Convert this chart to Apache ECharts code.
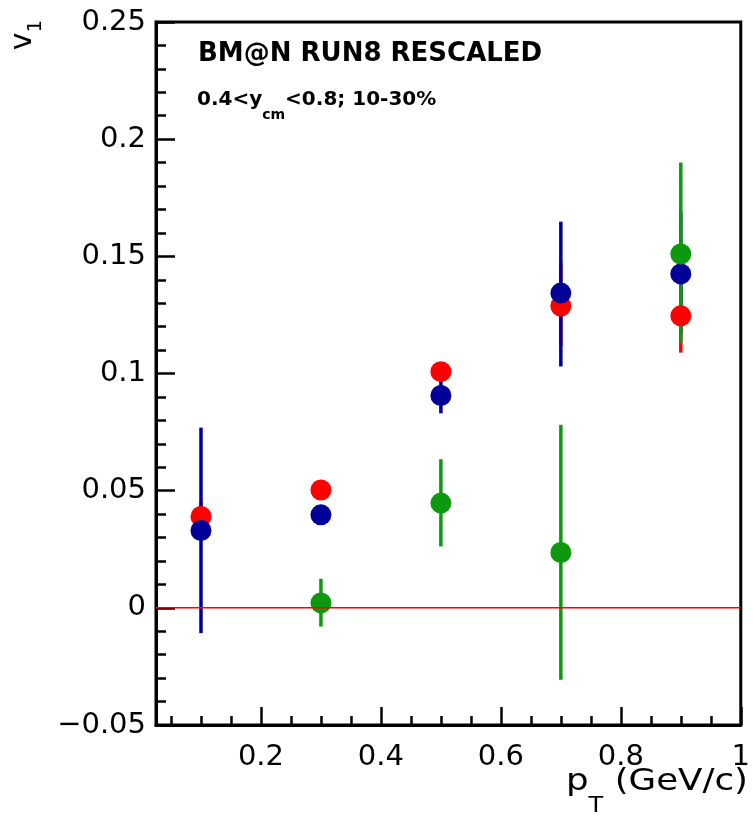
<!DOCTYPE html>
<html>
<head>
<meta charset="utf-8">
<script src="https://cdn.jsdelivr.net/npm/echarts@6/dist/echarts.min.js"></script>
<style>
html,body{margin:0;padding:0;background:#fff;}
#chart{width:753px;height:816px;}
</style>
</head>
<body>
<div id="chart"></div>
<script>
// pT bin centres
var ptAll = [0.1, 0.3, 0.5, 0.7, 0.9];
var ptGreen = [0.3, 0.5, 0.7, 0.9];

// red points
var redV  = [0.039, 0.0503, 0.1008, 0.1288, 0.1246];
var redLo = [0.033, 0.047, 0.097, 0.1118, 0.1089];
var redHi = [0.045, 0.053, 0.104, 0.1473, 0.1403];

// blue points
var blueV  = [0.033, 0.0397, 0.0906, 0.1343, 0.1425];
var blueLo = [-0.0108, 0.037, 0.083, 0.103, 0.1169];
var blueHi = [0.0769, 0.043, 0.0973, 0.1648, 0.1688];

// green points
var greenV  = [0.0021, 0.0447, 0.0236, 0.151];
var greenLo = [-0.008, 0.0262, -0.0307, 0.1132];
var greenHi = [0.0124, 0.0634, 0.0781, 0.19];

// axes
var xMin = 0.025, xMax = 1.0;
var xMajor = [0.2, 0.4, 0.6, 0.8, 1.0];
var xMinor = [0.05, 0.1, 0.15, 0.25, 0.3, 0.35, 0.45, 0.5, 0.55, 0.65, 0.7, 0.75, 0.85, 0.9, 0.95];
var yMin = -0.05, yMax = 0.25, yStep = 0.05;
var zeroLine = [[xMin, 0], [xMax, 0]];

var FONT = 'DejaVu Sans';

function pts(x, v){
  return x.map(function(a, i){ return [a, v[i]]; });
}
function errs(x, lo, hi){
  return x.map(function(a, i){ return [a, lo[i], hi[i]]; });
}
function errSeries(data, color){
  return {
    type: 'custom',
    xAxisIndex: 0,
    data: data,
    encode: {x: 0, y: [1, 2]},
    renderItem: function(params, api){
      var p1 = api.coord([api.value(0), api.value(1)]);
      var p2 = api.coord([api.value(0), api.value(2)]);
      return {
        type: 'line',
        shape: {x1: p1[0], y1: p1[1], x2: p2[0], y2: p2[1]},
        style: {stroke: color, lineWidth: 3.5}
      };
    }
  };
}
function dotSeries(data, color){
  return {
    type: 'scatter',
    xAxisIndex: 0,
    data: data,
    symbol: 'circle',
    symbolSize: 21,
    itemStyle: {color: color, opacity: 1}
  };
}

var red = '#ff0000', blue = '#000099', green = '#0d990d';

var chart = echarts.init(document.getElementById('chart'));
chart.setOption({
  animation: false,
  grid: {left: 156, right: 7, top: 22, bottom: 91, show: true, borderColor: '#000', borderWidth: 3, backgroundColor: 'transparent'},
  xAxis: [
    {
      type: 'value', min: xMin, max: xMax,
      axisLine: {show: true, onZero: false, lineStyle: {color: '#000', width: 3}},
      axisTick: {show: true, inside: true, length: 18, customValues: xMajor, lineStyle: {color: '#000', width: 2.5}},
      axisLabel: {
        customValues: xMajor, margin: 18, color: '#000', fontFamily: FONT, fontSize: 29,
        formatter: function(v){ return String(+v.toFixed(2)); }
      },
      splitLine: {show: false}
    },
    {
      type: 'value', min: xMin, max: xMax, position: 'bottom',
      axisLine: {show: false, onZero: false},
      axisTick: {show: true, inside: true, length: 9, customValues: xMinor, lineStyle: {color: '#000', width: 2.5}},
      axisLabel: {show: false, customValues: xMinor},
      splitLine: {show: false}
    }
  ],
  yAxis: {
    type: 'value', min: yMin, max: yMax, interval: yStep,
    axisLine: {show: true, onZero: false, lineStyle: {color: '#000', width: 3}},
    axisTick: {show: true, inside: true, length: 19, lineStyle: {color: '#000', width: 2.5}},
    minorTick: {show: true, splitNumber: 5, length: 10, lineStyle: {color: '#000', width: 2.5}},
    axisLabel: {
      margin: 10, color: '#000', fontFamily: FONT, fontSize: 29, padding: [14, 0, 0, 0],
      formatter: function(v){ return String(+v.toFixed(2)).replace('-', '\u2212'); }
    },
    splitLine: {show: false}
  },
  graphic: [
    {
      type: 'text', x: 198, y: 54,
      style: {text: 'BM@N RUN8 RESCALED', fill: '#000', font: 'bold 26px "DejaVu Sans"', textAlign: 'left', textVerticalAlign: 'middle'}
    },
    {
      type: 'text', x: 197, y: 100,
      style: {
        text: '{m|0.4<y}{s|cm}{m|<0.8; 10-30%}',
        textAlign: 'left', textVerticalAlign: 'middle',
        rich: {
          m: {fontFamily: FONT, fontWeight: 'bold', fontSize: 20, fill: '#000'},
          s: {fontFamily: FONT, fontWeight: 'bold', fontSize: 14, fill: '#000', padding: [30, 0, 0, 0]}
        }
      }
    },
    {
      type: 'text', x: 23, y: 35, rotation: Math.PI / 2,
      style: {
        text: '{m|v}{s|1}',
        textAlign: 'center', textVerticalAlign: 'middle',
        rich: {
          m: {fontFamily: FONT, fontSize: 30, fill: '#000'},
          s: {fontFamily: FONT, fontSize: 20, fill: '#000', padding: [25, 0, 0, 0]}
        }
      }
    },
    {
      type: 'text', x: 748, y: 782, scaleX: 1.15, originX: 0, originY: 0,
      style: {
        text: '{m|p}{s|T}{m| (GeV/c)}',
        textAlign: 'right', textVerticalAlign: 'middle',
        rich: {
          m: {fontFamily: FONT, fontSize: 31, fill: '#000'},
          s: {fontFamily: FONT, fontSize: 21, fill: '#000', padding: [49, 0, 0, 0]}
        }
      }
    }
  ],
  series: [
    {
      type: 'line', xAxisIndex: 0, data: zeroLine, symbol: 'none',
      lineStyle: {color: red, width: 1.5}
    },
    errSeries(errs(ptAll, redLo, redHi), red),
    dotSeries(pts(ptAll, redV), red),
    errSeries(errs(ptAll, blueLo, blueHi), blue),
    dotSeries(pts(ptAll, blueV), blue),
    errSeries(errs(ptGreen, greenLo, greenHi), green),
    dotSeries(pts(ptGreen, greenV), green)
  ]
});
</script>
</body>
</html>
